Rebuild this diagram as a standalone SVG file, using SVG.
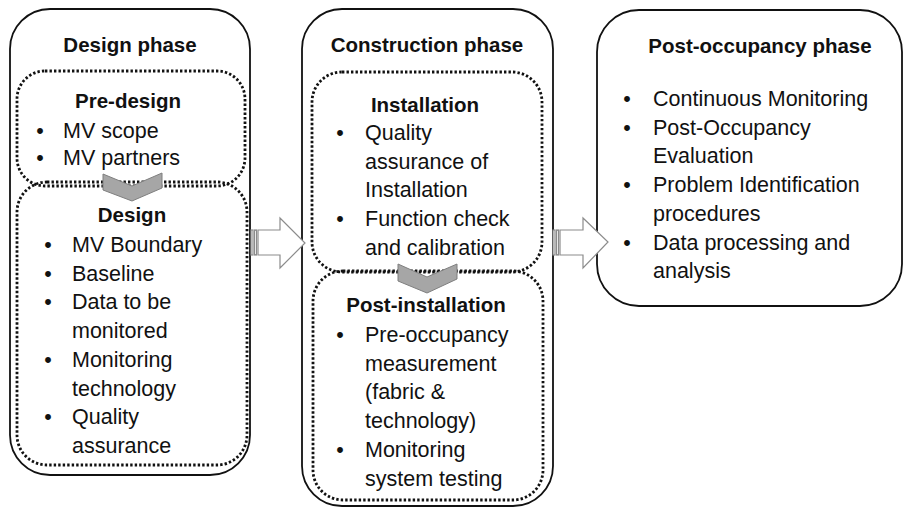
<svg xmlns="http://www.w3.org/2000/svg" width="905" height="509" viewBox="0 0 905 509">
<style>
.outer{fill:#fff;stroke:#111;stroke-width:1.8}
.dot{fill:none;stroke:#111;stroke-width:2.8;stroke-dasharray:2.4 2.1}
.chev{fill:#a6a6a6;stroke:#7f7f7f;stroke-width:1}
.arr{fill:#fff;stroke:#8c8c8c;stroke-width:1.2}
text{font-family:"Liberation Sans",Arial,sans-serif;fill:#111}
.t{font-weight:bold;font-size:20.5px;text-anchor:middle}
.b{font-size:21.5px}
.bu{font-size:21.5px;text-anchor:middle}
</style>
<rect width="905" height="509" fill="#fff"/>
<g id="design-phase">
<rect class="outer" x="10" y="9" width="240" height="466" rx="40"/>
<text class="t" x="130" y="52">Design phase</text>
</g>
<g id="construction-phase">
<rect class="outer" x="302" y="9" width="251" height="497" rx="40"/>
<text class="t" x="427" y="52">Construction phase</text>
</g>
<g id="post-occupancy-phase">
<rect class="outer" x="597" y="10" width="305" height="296" rx="42"/>
<text class="t" x="760" y="53">Post-occupancy phase</text>
<text class="bu" x="627" y="106">•</text><text class="b" x="653" y="106">Continuous Monitoring</text>
<text class="bu" x="627" y="134.7">•</text><text class="b" x="653" y="134.7">Post-Occupancy</text>
<text class="b" x="653" y="163.4">Evaluation</text>
<text class="bu" x="627" y="192.1">•</text><text class="b" x="653" y="192.1">Problem Identification</text>
<text class="b" x="653" y="220.8">procedures</text>
<text class="bu" x="627" y="249.5">•</text><text class="b" x="653" y="249.5">Data processing and</text>
<text class="b" x="653" y="278.2">analysis</text>
</g>
<g id="pre-design">
<rect class="dot" x="17" y="71" width="228" height="115" rx="28"/>
<text class="t" x="128" y="108">Pre-design</text>
<text class="bu" x="40" y="138">•</text><text class="b" x="63" y="138">MV scope</text>
<text class="bu" x="40" y="165">•</text><text class="b" x="63" y="165">MV partners</text>
</g>
<g id="design">
<rect class="dot" x="17" y="182" width="230" height="283" rx="30"/>
<text class="t" x="132" y="222">Design</text>
<text class="bu" x="48" y="252">•</text><text class="b" x="72" y="252">MV Boundary</text>
<text class="bu" x="48" y="280.7">•</text><text class="b" x="72" y="280.7">Baseline</text>
<text class="bu" x="48" y="309.4">•</text><text class="b" x="72" y="309.4">Data to be</text>
<text class="b" x="72" y="338.1">monitored</text>
<text class="bu" x="48" y="366.8">•</text><text class="b" x="72" y="366.8">Monitoring</text>
<text class="b" x="72" y="395.5">technology</text>
<text class="bu" x="48" y="424.2">•</text><text class="b" x="72" y="424.2">Quality</text>
<text class="b" x="72" y="452.9">assurance</text>
</g>
<g id="installation">
<rect class="dot" x="312" y="72" width="230" height="200" rx="30"/>
<text class="t" x="425" y="112">Installation</text>
<text class="bu" x="340" y="140">•</text><text class="b" x="365" y="140">Quality</text>
<text class="b" x="365" y="168.7">assurance of</text>
<text class="b" x="365" y="197.4">Installation</text>
<text class="bu" x="340" y="226.1">•</text><text class="b" x="365" y="226.1">Function check</text>
<text class="b" x="365" y="254.8">and calibration</text>
</g>
<g id="post-installation">
<rect class="dot" x="313" y="271" width="230" height="229" rx="30"/>
<text class="t" x="426" y="312">Post-installation</text>
<text class="bu" x="340" y="342">•</text><text class="b" x="365" y="342">Pre-occupancy</text>
<text class="b" x="365" y="370.7">measurement</text>
<text class="b" x="365" y="399.4">(fabric &amp;</text>
<text class="b" x="365" y="428.1">technology)</text>
<text class="bu" x="340" y="456.8">•</text><text class="b" x="365" y="456.8">Monitoring</text>
<text class="b" x="365" y="485.5">system testing</text>
</g>
<g id="connectors">
<polygon class="chev" points="103,174 132,186 162,173 162,188 132,201 103,190"/>
<polygon class="chev" points="398,264 427,277 457,264 457,279 427,293 398,281"/>
<rect class="arr" x="251" y="230" width="2" height="25"/>
<rect class="arr" x="254.5" y="230" width="2" height="25"/>
<polygon class="arr" points="258,230 280,230 280,218 305,243 280,268 280,255 258,255"/>
<rect class="arr" x="553" y="230" width="2" height="25"/>
<rect class="arr" x="556.5" y="230" width="2" height="25"/>
<polygon class="arr" points="560,230 583,230 583,218 608,242 583,268 583,255 560,255"/>
</g>
</svg>
